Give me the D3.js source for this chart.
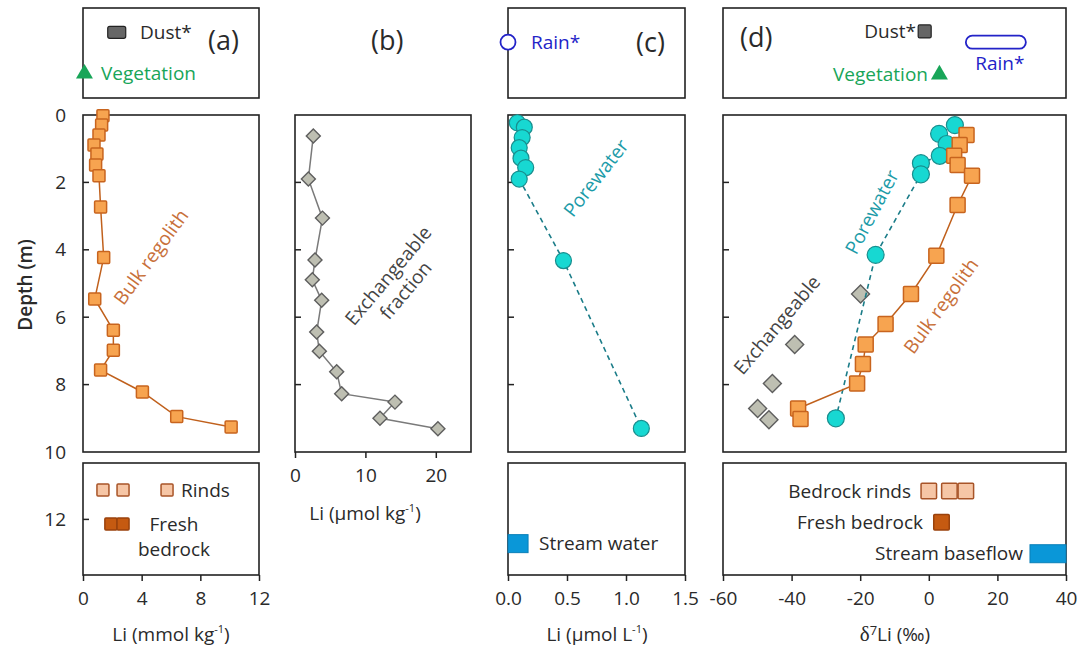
<!DOCTYPE html>
<html><head><meta charset="utf-8">
<script src="https://cdn.jsdelivr.net/npm/d3@7"></script>
<style>
body{margin:0;background:#fff;}
svg text{font-family:"Open Sans",sans-serif;}
</style></head><body>
<svg id="chart" width="1089" height="649"></svg>
<script>
// ---------------- DATA ----------------
const depthTickLabels = [0, 2, 4, 6, 8, 10, 12];
const depthInnerTicks = [2, 4, 6, 8];

// (a) bulk regolith Li (mmol/kg) vs depth (m)
const bulkLi    = [1.36, 1.27, 1.09, 0.75, 0.95, 0.86, 1.09, 1.2, 1.41, 0.8, 2.07, 2.07, 1.2, 4.05, 6.39, 10.1];
const bulkDepth = [0.02, 0.3, 0.59, 0.89, 1.16, 1.48, 1.8, 2.73, 4.23, 5.46, 6.39, 6.98, 7.57, 8.22, 8.95, 9.26];
const rindsLi = [1.36, 2.73, 5.73];
const freshLi = [1.9, 2.73];
const dustLi = [2.3];
const vegLi = [0.1];
const ticksA = [0, 4, 8, 12];

// (b) exchangeable fraction Li (umol/kg)
const exchLi    = [2.6, 1.9, 3.9, 2.84, 2.46, 3.79, 3.08, 3.46, 5.92, 6.63, 14.2, 12.07, 20.3];
const exchDepth = [0.62, 1.9, 3.06, 4.3, 4.89, 5.5, 6.44, 7.01, 7.62, 8.27, 8.52, 9.0, 9.31];
const ticksB = [0, 10, 20];

// (c) porewater Li (umol/L)
const poreLi    = [0.079, 0.138, 0.12, 0.095, 0.11, 0.15, 0.095, 0.47, 1.13];
const poreDepth = [0.23, 0.36, 0.67, 0.97, 1.28, 1.56, 1.9, 4.32, 9.3];
const rainLi = [0.0];
const streamLi = [0.0, 0.17];
const ticksC = [0.0, 0.5, 1.0, 1.5];

// (d) d7Li (permil)
const poreD7      = [7.6, 3.0, 5.2, 3.2, -2.3, -2.3, -15.5, -27.1];
const poreD7Depth = [0.3, 0.56, 0.86, 1.21, 1.43, 1.76, 4.15, 9.0];
const bulkD7      = [11.0, 9.0, 7.4, 8.4, 12.6, 8.4, 2.2, -5.2, -12.6, -18.4, -19.2, -20.9, -38.1, -37.4];
const bulkD7Depth = [0.59, 0.89, 1.21, 1.48, 1.8, 2.67, 4.18, 5.31, 6.2, 6.81, 7.39, 7.97, 8.71, 9.02];
const exchD7      = [-19.9, -39.1, -45.6, -49.9, -46.6];
const exchD7Depth = [5.31, 6.81, 7.97, 8.71, 9.04];
const rindsD7 = [0, 6, 10.8];
const freshD7 = [3.7];
const streamD7 = [29.5, 40];
const dustD7 = [-1.2];
const vegD7 = [3.1];
const rainD7 = [10.8, 28.3];
const ticksD = [-60, -40, -20, 0, 20, 40];

// ---------------- COLOURS ----------------
const C = {
  axis: "#222", text: "#2a2a2a",
  sqFill: "#F7A450", sqStroke: "#C8641E", bulkLine: "#C0601C", bulkText: "#C8703A",
  rindFill: "#F6C6A6", rindStroke: "#A85428",
  freshFill: "#C55A11", freshStroke: "#9A420C",
  dmFill: "#BEBFB2", dmStroke: "#5E5E5E", dmLine: "#7A7A7A",
  cirFill: "#17D8D2", cirStroke: "#198E8E", poreLine: "#1A7C88", poreText: "#1B9BA8",
  dust: "#666", veg: "#18A558", rain: "#2323C8", stream: "#0A97D8"
};

// ---------------- SCALES ----------------
const svg = d3.select("#chart");
const y = d3.scaleLinear().domain([0, 10]).range([115, 452]);
const xA = d3.scaleLinear().domain([0, 12]).range([83, 259]);
const xB = d3.scaleLinear().domain([0, 25]).range([295, 471]);
const xC = d3.scaleLinear().domain([0, 1.5]).range([508, 685]);
const xD = d3.scaleLinear().domain([-60, 40]).range([723, 1066]);
const topY = 8, topH = 90;          // legend box
const botY = 463, botH = 112;       // bottom box
const rowTop = f => topY + f * topH;   // fractional row inside top box
const rowBot = f => botY + f * botH;

// ---------------- HELPERS ----------------
function box(x, x0, x1, y0, y1) {
  svg.append("rect").attr("x", x(x0)).attr("y", y0).attr("width", x(x1) - x(x0)).attr("height", y1 - y0)
    .attr("fill", "none").attr("stroke", C.axis).attr("stroke-width", 1.6);
}
function xAxis(x, yPos, ticks, fmt) {
  const g = svg.append("g").attr("transform", `translate(0,${yPos})`)
    .call(d3.axisBottom(x).tickValues(ticks).tickFormat(fmt).tickSize(6).tickSizeOuter(0).tickPadding(11));
  g.select(".domain").remove();
  g.selectAll("line").attr("stroke", C.axis).attr("stroke-width", 1.5);
  g.selectAll("text").attr("font-size", 19).attr("fill", C.text).attr("font-family", "Open Sans, sans-serif");
}
function innerTicks(x0px, depths) {
  svg.append("g").selectAll("line").data(depths).join("line")
    .attr("x1", x0px).attr("x2", x0px + 6).attr("y1", d => y(d)).attr("y2", d => y(d))
    .attr("stroke", C.axis).attr("stroke-width", 1.5);
}
function label(txt, x, yy, opts = {}) {
  const t = svg.append("text").attr("x", x).attr("y", yy).attr("dy", "0.35em")
    .attr("font-size", opts.size || 19).attr("fill", opts.fill || C.text)
    .attr("text-anchor", opts.anchor || "start");
  if (opts.weight) t.attr("font-weight", opts.weight);
  if (opts.rotate !== undefined) t.attr("transform", `rotate(${opts.rotate},${x},${yy})`);
  t.text(txt);
  return t;
}
function squares(x, vals, depths, s, fill, stroke, ypx) {
  svg.append("g").selectAll("rect").data(vals).join("rect")
    .attr("x", (d) => x(d) - s / 2)
    .attr("y", (d, i) => (ypx !== undefined ? ypx : y(depths[i])) - s / 2)
    .attr("width", s).attr("height", s).attr("rx", 1)
    .attr("fill", fill).attr("stroke", stroke).attr("stroke-width", 1.5);
}
function diamonds(x, vals, depths, diag) {
  const side = diag / Math.SQRT2;
  svg.append("g").selectAll("path").data(vals).join("path")
    .attr("d", d3.symbol(d3.symbolSquare, side * side)())
    .attr("transform", (d, i) => `translate(${x(d)},${y(depths[i])}) rotate(45)`)
    .attr("fill", C.dmFill).attr("stroke", C.dmStroke).attr("stroke-width", 1.4);
}
function circles(x, vals, depths, r) {
  svg.append("g").selectAll("circle").data(vals).join("circle")
    .attr("cx", d => x(d)).attr("cy", (d, i) => y(depths[i])).attr("r", r)
    .attr("fill", C.cirFill).attr("stroke", C.cirStroke).attr("stroke-width", 1.2);
}
function line(x, vals, depths, color, width, dash) {
  const pts = vals.map((v, i) => [x(v), y(depths[i])]);
  const p = svg.append("path").attr("d", d3.line()(pts)).attr("fill", "none")
    .attr("stroke", color).attr("stroke-width", width);
  if (dash) p.attr("stroke-dasharray", dash);
}
function triangle(xpx, ypx) {
  svg.append("path").attr("d", d3.symbol(d3.symbolTriangle, 125)())
    .attr("transform", `translate(${xpx},${ypx})`).attr("fill", C.veg);
}
function axisTitle(x, yy, parts) {
  const t = svg.append("text").attr("x", x).attr("y", yy).attr("text-anchor", "middle")
    .attr("font-size", 19).attr("fill", C.text);
  parts.forEach(p => {
    const s = t.append("tspan").text(p.t);
    if (p.sup) s.attr("font-size", 11).attr("dy", -8);
    if (p.down) s.attr("dy", 8);
    if (p.font) s.attr("font-family", p.font);
  });
}

// ---------------- DEPTH AXIS LABELS ----------------
svg.append("g").selectAll("text").data(depthTickLabels).join("text")
  .attr("x", 66).attr("y", d => y(d)).attr("dy", "0.35em").attr("text-anchor", "end")
  .attr("font-size", 19).attr("fill", C.text).text(d => d);
label("Depth (m)", 25, 285, { anchor: "middle", rotate: -90, weight: 600, size: 19 });

// ---------------- PANEL (a) ----------------
box(xA, 0, 12, topY, topY + topH);
box(xA, 0, 12, y(0), y(10));
box(xA, 0, 12, botY, botY + botH);
innerTicks(xA(0), depthInnerTicks);
innerTicks(xA(0), [12]);
xAxis(xA, botY + botH, ticksA, d => d);
axisTitle(171, 641, [{ t: "Li (mmol kg" }, { t: "-1", sup: true }, { t: ")", down: true }]);

svg.append("rect").attr("x", xA(dustLi[0]) - 9).attr("y", rowTop(0.27) - 6).attr("width", 18).attr("height", 12)
  .attr("rx", 2).attr("fill", C.dust).attr("stroke", "#222").attr("stroke-width", 1.2);
label("Dust*", 140, rowTop(0.27));
label("(a)", 208, rowTop(0.36), { size: 27 });
triangle(xA(vegLi[0]), rowTop(0.73));
label("Vegetation", 101, rowTop(0.73), { fill: C.veg });

line(xA, bulkLi, bulkDepth, C.bulkLine, 1.5);
squares(xA, bulkLi, bulkDepth, 12, C.sqFill, C.sqStroke);
label("Bulk regolith", 151, 257, { anchor: "middle", rotate: -54, fill: C.bulkText });

squares(xA, rindsLi, null, 12, C.rindFill, C.rindStroke, rowBot(0.24));
label("Rinds", 181, rowBot(0.24));
squares(xA, freshLi, null, 12, C.freshFill, C.freshStroke, rowBot(0.545));
label("Fresh", 174, rowBot(0.545), { anchor: "middle" });
label("bedrock", 174, rowBot(0.77), { anchor: "middle" });

// ---------------- PANEL (b) ----------------
box(xB, 0, 25, y(0), y(10));
innerTicks(xB(0), depthInnerTicks);
xAxis(xB, y(10), ticksB, d => d);
axisTitle(365, 520, [{ t: "Li (µmol kg" }, { t: "-1", sup: true }, { t: ")", down: true }]);
label("(b)", 371, rowTop(0.36), { size: 27 });
line(xB, exchLi, exchDepth, C.dmLine, 1.5);
diamonds(xB, exchLi, exchDepth, 14);
const ef = svg.append("text").attr("transform", "translate(397,283) rotate(-50)")
  .attr("text-anchor", "middle").attr("font-size", 19).attr("fill", "#444");
ef.append("tspan").attr("x", 0).attr("dy", "-0.25em").text("Exchangeable");
ef.append("tspan").attr("x", 0).attr("dy", "1.2em").text("fraction");

// ---------------- PANEL (c) ----------------
box(xC, 0, 1.5, topY, topY + topH);
box(xC, 0, 1.5, y(0), y(10));
box(xC, 0, 1.5, botY, botY + botH);
innerTicks(xC(0), depthInnerTicks);
xAxis(xC, botY + botH, ticksC, d3.format(".1f"));
axisTitle(597, 641, [{ t: "Li (µmol L" }, { t: "-1", sup: true }, { t: ")", down: true }]);

svg.append("circle").attr("cx", xC(rainLi[0])).attr("cy", rowTop(0.38)).attr("r", 7.5)
  .attr("fill", "#fff").attr("stroke", C.rain).attr("stroke-width", 1.8);
label("Rain*", 531, rowTop(0.38), { fill: C.rain });
label("(c)", 636, rowTop(0.38), { size: 27 });

line(xC, poreLi, poreDepth, C.poreLine, 1.6, "5,4");
circles(xC, poreLi, poreDepth, 8);
label("Porewater", 596, 178, { anchor: "middle", rotate: -52, fill: C.poreText });

svg.append("rect").attr("x", xC(streamLi[0])).attr("y", rowBot(0.72) - 9)
  .attr("width", xC(streamLi[1]) - xC(streamLi[0])).attr("height", 18)
  .attr("fill", C.stream).attr("stroke", "#0A7FB8").attr("stroke-width", 1);
label("Stream water", 539, rowBot(0.72));

// ---------------- PANEL (d) ----------------
box(xD, -60, 40, topY, topY + topH);
box(xD, -60, 40, y(0), y(10));
box(xD, -60, 40, botY, botY + botH);
innerTicks(xD(-60), depthInnerTicks);
xAxis(xD, botY + botH, ticksD, d => String(d));
{
  const t = svg.append("text").attr("x", 895).attr("y", 641).attr("text-anchor", "middle")
    .attr("font-size", 19).attr("fill", C.text);
  t.append("tspan").attr("font-family", "Liberation Serif, DejaVu Serif, serif").attr("font-size", 21).text("δ");
  t.append("tspan").attr("font-size", 13).attr("dy", -6).text("7");
  t.append("tspan").attr("dy", 6).text("Li (‰)");
}

label("(d)", 740, rowTop(0.33), { size: 27 });
svg.append("rect").attr("x", xD(dustD7[0]) - 6.5).attr("y", rowTop(0.26) - 6.5).attr("width", 13).attr("height", 13)
  .attr("rx", 1.5).attr("fill", C.dust).attr("stroke", "#222").attr("stroke-width", 1.2);
label("Dust*", 916, rowTop(0.26), { anchor: "end" });
triangle(xD(vegD7[0]), rowTop(0.74));
label("Vegetation", 928, rowTop(0.74), { anchor: "end", fill: C.veg });
svg.append("rect").attr("x", xD(rainD7[0])).attr("y", rowTop(0.38) - 6.5)
  .attr("width", xD(rainD7[1]) - xD(rainD7[0])).attr("height", 13).attr("rx", 6.5)
  .attr("fill", "#fff").attr("stroke", C.rain).attr("stroke-width", 1.8);
label("Rain*", (xD(rainD7[0]) + xD(rainD7[1])) / 2 + 4, rowTop(0.62), { anchor: "middle", fill: C.rain });

diamonds(xD, exchD7, exchD7Depth, 18);
line(xD, poreD7, poreD7Depth, C.poreLine, 1.6, "5,4");
circles(xD, poreD7, poreD7Depth, 8.5);
line(xD, bulkD7, bulkD7Depth, C.bulkLine, 1.5);
squares(xD, bulkD7, bulkD7Depth, 15, C.sqFill, C.sqStroke);

label("Porewater", 872, 212, { anchor: "middle", rotate: -62, fill: C.poreText });
label("Exchangeable", 777, 325, { anchor: "middle", rotate: -50, fill: "#444" });
label("Bulk regolith", 941, 306, { anchor: "middle", rotate: -54, fill: C.bulkText });

squares(xD, rindsD7, null, 15.5, C.rindFill, C.rindStroke, rowBot(0.25));
label("Bedrock rinds", 911, rowBot(0.25), { anchor: "end" });
squares(xD, freshD7, null, 15.5, C.freshFill, C.freshStroke, rowBot(0.53));
label("Fresh bedrock", 923, rowBot(0.53), { anchor: "end" });
svg.append("rect").attr("x", xD(streamD7[0])).attr("y", rowBot(0.81) - 9)
  .attr("width", xD(streamD7[1]) - xD(streamD7[0])).attr("height", 18)
  .attr("fill", C.stream).attr("stroke", "#0A7FB8").attr("stroke-width", 1);
label("Stream baseflow", 1023, rowBot(0.81), { anchor: "end" });
</script>
</body></html>
